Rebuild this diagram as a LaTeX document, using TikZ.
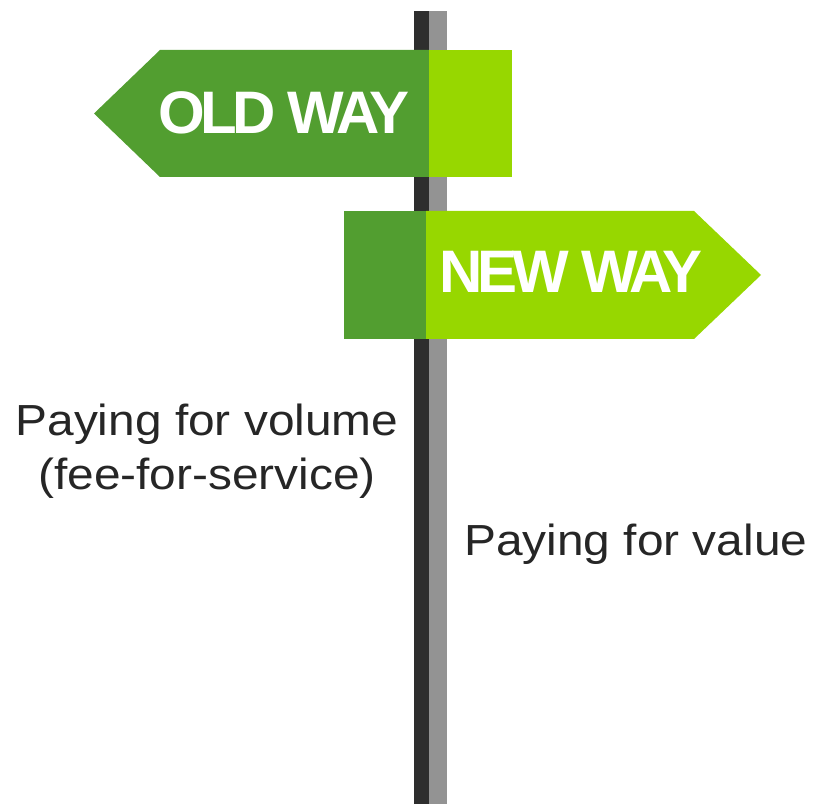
\documentclass[tikz,border=0pt]{standalone}
\usepackage{fontspec}
\setmainfont{Liberation Sans}
\newfontfamily\signfont[LetterSpace=-8]{Liberation Sans Bold}
\newcommand\stretchtxt[1]{\scalebox{1.1}[1]{#1}}
\definecolor{postdark}{HTML}{2E2E2E}
\definecolor{postlight}{HTML}{939393}
\definecolor{greendark}{HTML}{529E30}
\definecolor{greenlight}{HTML}{97D700}
\definecolor{textgray}{HTML}{262626}
\tikzset{
  signtext/.style={text=white, font=\signfont\fontsize{60}{60}\selectfont, inner sep=0pt, anchor=base},
  bodytext/.style={text=textgray, font=\fontsize{43.5}{52}\selectfont, inner sep=0pt},
}
\begin{document}
\begin{tikzpicture}[x=1pt,y=1pt]
  \useasboundingbox (0,0) rectangle (813,804);
  % post
  \fill[postdark]  (414,0) rectangle (429,793);
  \fill[postlight] (429,0) rectangle (447,793);
  % upper sign, pointing left
  \fill[greendark] (94,690.5) -- (160,754) -- (429,754) -- (429,627) -- (160,627) -- cycle;
  \fill[greenlight] (429,627) rectangle (512,754);
  \node[signtext] (old) at (284,670) {OLD WAY};
  % lower sign, pointing right
  \fill[greendark] (344,465) rectangle (426,593);
  \fill[greenlight] (426,465) -- (694,465) -- (761,529) -- (694,593) -- (426,593) -- cycle;
  \node[signtext] (new) at (571,511) {NEW WAY};
  % captions
  \node[bodytext, anchor=base] (vol1) at (207,369) {\stretchtxt{Paying for volume}};
  \node[bodytext, anchor=base] (vol2) at (207,315) {\stretchtxt{(fee-for-service)}};
  \node[bodytext, anchor=base west] (val) at (464,249) {\stretchtxt{Paying for value}};
\end{tikzpicture}
\end{document}
